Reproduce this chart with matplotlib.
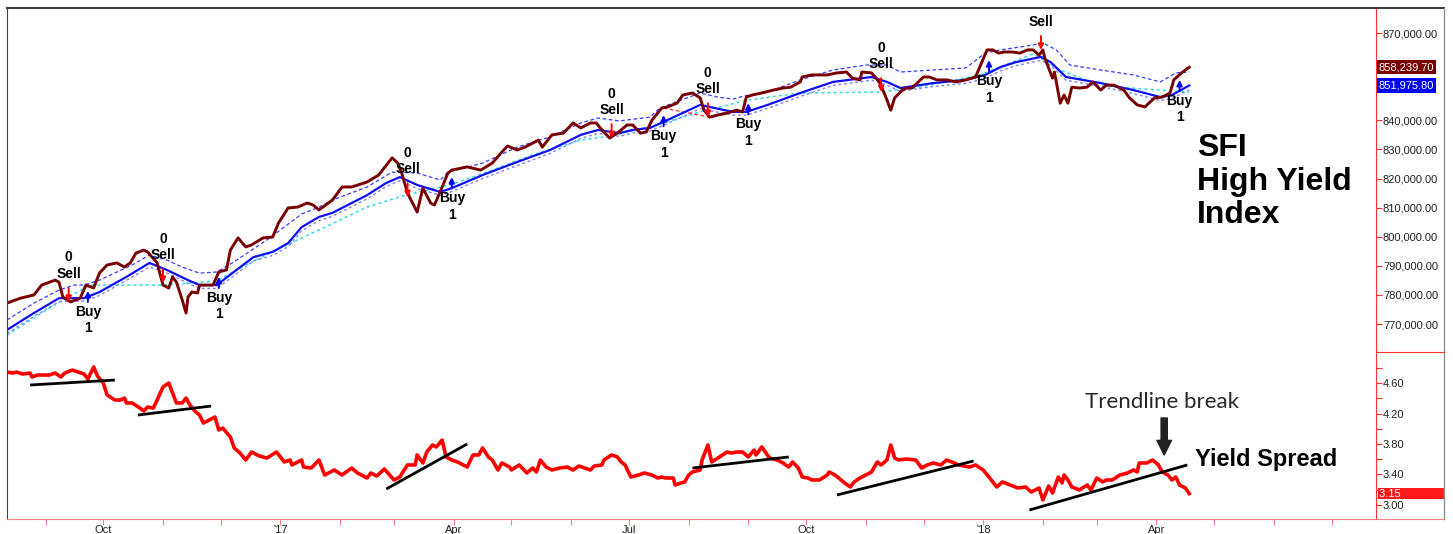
import pandas as pd
import matplotlib
matplotlib.use("Agg")
import matplotlib.pyplot as plt
import matplotlib.dates as mdates
from matplotlib.lines import Line2D
from matplotlib.ticker import FuncFormatter, FixedLocator

plt.rcParams['font.family'] = ['Liberation Sans', 'DejaVu Sans']

# --- SFI High Yield Index (values in thousands) ---
price_dates = [
    "2016-08-12", "2016-08-19", "2016-08-26", "2016-08-30", "2016-09-06", "2016-09-08", "2016-09-10", "2016-09-14", "2016-09-19", "2016-09-22",
    "2016-09-26", "2016-09-29", "2016-10-03", "2016-10-08", "2016-10-12", "2016-10-15", "2016-10-18", "2016-10-22", "2016-10-24", "2016-10-29",
    "2016-11-01", "2016-11-04", "2016-11-06", "2016-11-08", "2016-11-11", "2016-11-13", "2016-11-14", "2016-11-16", "2016-11-19", "2016-11-20",
    "2016-11-24", "2016-11-27", "2016-11-30", "2016-12-04", "2016-12-06", "2016-12-10", "2016-12-14", "2016-12-17", "2016-12-23", "2016-12-28",
    "2016-12-31", "2017-01-05", "2017-01-10", "2017-01-15", "2017-01-18", "2017-01-21", "2017-01-28", "2017-02-02", "2017-02-07", "2017-02-15",
    "2017-02-21", "2017-02-28", "2017-03-03", "2017-03-05", "2017-03-08", "2017-03-13", "2017-03-16", "2017-03-20", "2017-03-22", "2017-03-26",
    "2017-03-29", "2017-03-31", "2017-04-08", "2017-04-15", "2017-04-21", "2017-04-26", "2017-04-29", "2017-05-04", "2017-05-08", "2017-05-15",
    "2017-05-17", "2017-05-22", "2017-05-28", "2017-06-02", "2017-06-06", "2017-06-11", "2017-06-14", "2017-06-17", "2017-06-21", "2017-06-25",
    "2017-06-30", "2017-07-03", "2017-07-07", "2017-07-10", "2017-07-13", "2017-07-18", "2017-07-21", "2017-07-26", "2017-07-29", "2017-08-03",
    "2017-08-07", "2017-08-09", "2017-08-12", "2017-08-16", "2017-08-21", "2017-08-26", "2017-08-29", "2017-08-31", "2017-09-03", "2017-09-08",
    "2017-09-14", "2017-09-19", "2017-09-23", "2017-09-28", "2017-09-29", "2017-10-04", "2017-10-12", "2017-10-17", "2017-10-22", "2017-10-25",
    "2017-10-29", "2017-10-30", "2017-11-04", "2017-11-08", "2017-11-11", "2017-11-14", "2017-11-16", "2017-11-20", "2017-11-22", "2017-11-25",
    "2017-12-01", "2017-12-04", "2017-12-08", "2017-12-13", "2017-12-18", "2017-12-23", "2017-12-28", "2017-12-30", "2018-01-03", "2018-01-06",
    "2018-01-09", "2018-01-12", "2018-01-16", "2018-01-20", "2018-01-24", "2018-01-27", "2018-01-30", "2018-02-01", "2018-02-02", "2018-02-06",
    "2018-02-07", "2018-02-10", "2018-02-12", "2018-02-14", "2018-02-16", "2018-02-20", "2018-02-24", "2018-02-27", "2018-03-03", "2018-03-06",
    "2018-03-10", "2018-03-15", "2018-03-18", "2018-03-22", "2018-03-26", "2018-03-28", "2018-03-31", "2018-04-04", "2018-04-08", "2018-04-10",
    "2018-04-14", "2018-04-18",
]
price_values = [
    777.2, 778.9, 780.0, 783.4, 785.1, 784.4, 779.3, 777.6, 778.9, 783.4,
    782.4, 787.5, 790.3, 791.0, 789.6, 791.0, 794.4, 795.4, 794.8, 791.0,
    783.4, 782.4, 786.2, 784.4, 778.3, 773.8, 779.3, 781.0, 780.7, 783.4,
    783.4, 783.4, 787.9, 788.6, 795.4, 799.6, 796.5, 797.2, 799.6, 799.9,
    804.7, 809.9, 810.2, 811.6, 810.9, 809.2, 812.6, 817.1, 817.1, 818.8,
    821.2, 827.1, 825.3, 821.9, 815.0, 808.5, 816.7, 811.6, 810.9, 817.1,
    821.9, 822.9, 824.0, 822.9, 825.3, 829.1, 831.2, 829.8, 830.8, 833.2,
    830.8, 835.0, 835.6, 839.1, 837.4, 839.1, 839.1, 836.7, 833.9, 835.6,
    838.4, 838.4, 835.6, 836.0, 840.1, 844.2, 844.6, 845.9, 848.7, 849.4,
    847.7, 843.5, 841.1, 841.8, 842.5, 843.5, 842.9, 848.0, 848.7, 849.4,
    850.4, 851.1, 851.4, 853.2, 854.9, 855.6, 855.6, 856.3, 856.6, 854.5,
    853.9, 856.6, 856.3, 853.2, 848.7, 843.5, 847.7, 850.4, 851.1, 851.1,
    854.9, 854.9, 853.9, 853.9, 853.2, 853.9, 854.9, 858.0, 864.2, 864.2,
    863.1, 863.5, 863.5, 863.1, 864.2, 864.2, 862.4, 864.2, 861.4, 854.5,
    856.6, 845.9, 848.7, 845.9, 851.4, 851.1, 851.4, 853.2, 850.4, 852.1,
    852.1, 850.4, 847.7, 845.3, 844.6, 845.9, 847.7, 848.0, 849.4, 853.9,
    856.3, 858.2397,
]

# moving average (solid blue) and its lower dotted band
ma_dates = [
    "2016-08-12", "2016-08-26", "2016-09-08", "2016-09-13", "2016-09-21", "2016-09-29", "2016-10-13", "2016-10-25",
    "2016-11-03", "2016-11-14", "2016-11-20", "2016-11-29", "2016-12-07", "2016-12-18", "2016-12-28", "2017-01-05",
    "2017-01-12", "2017-01-21", "2017-01-28", "2017-02-15", "2017-02-25", "2017-03-04", "2017-03-13", "2017-03-25",
    "2017-03-31", "2017-04-16", "2017-05-04", "2017-05-21", "2017-06-06", "2017-06-15", "2017-06-26", "2017-07-03",
    "2017-07-12", "2017-07-21", "2017-08-07", "2017-08-24", "2017-08-31", "2017-09-11", "2017-09-28", "2017-10-15",
    "2017-11-04", "2017-11-12", "2017-11-19", "2017-12-06", "2017-12-23", "2018-01-02", "2018-01-10", "2018-01-18",
    "2018-01-31", "2018-02-05", "2018-02-13", "2018-03-03", "2018-03-20", "2018-04-03", "2018-04-09", "2018-04-18",
]
ma_values = [
    768.0, 773.8, 778.9, 778.9, 778.9, 781.0, 786.2, 791.0,
    788.6, 785.1, 783.4, 783.4, 787.5, 793.0, 794.8, 797.8,
    803.3, 806.8, 808.2, 814.3, 818.5, 820.5, 817.8, 815.4,
    816.7, 821.2, 825.7, 829.8, 835.0, 836.7, 835.6, 836.7,
    837.4, 840.1, 845.3, 842.9, 842.9, 845.3, 849.4, 853.2,
    854.9, 853.2, 851.1, 852.8, 853.9, 855.6, 858.3, 860.0,
    861.8, 860.0, 854.9, 852.8, 850.4, 848.0, 848.7, 851.9758,
]
lower_band_values = [
    766.8, 772.6, 777.7, 777.8, 777.9, 779.8, 785.0, 789.6,
    787.6, 784.0, 782.3, 782.2, 786.2, 791.7, 793.6, 796.6,
    802.0, 805.5, 807.0, 813.0, 817.3, 819.2, 816.6, 814.2,
    815.5, 820.0, 824.5, 828.6, 833.8, 835.5, 834.5, 835.6,
    836.3, 838.9, 844.0, 841.8, 841.8, 844.1, 848.2, 852.0,
    853.8, 852.1, 850.0, 851.6, 852.7, 854.4, 857.0, 858.8,
    860.6, 858.9, 853.8, 851.6, 849.2, 846.8, 847.5, 850.5,
]

# upper dashed band
upper_dates = [
    "2016-08-12", "2016-08-26", "2016-09-08", "2016-09-16", "2016-09-21", "2016-09-29", "2016-10-16", "2016-10-25",
    "2016-11-03", "2016-11-12", "2016-11-20", "2016-11-29", "2016-12-07", "2016-12-25", "2017-01-12", "2017-01-21",
    "2017-01-28", "2017-02-15", "2017-02-28", "2017-03-13", "2017-03-25", "2017-03-29", "2017-04-16", "2017-05-04",
    "2017-05-21", "2017-06-06", "2017-06-15", "2017-06-26", "2017-07-12", "2017-07-17", "2017-08-07", "2017-08-16",
    "2017-08-24", "2017-08-30", "2017-09-11", "2017-09-28", "2017-10-15", "2017-11-01", "2017-11-12", "2017-11-19",
    "2017-12-06", "2017-12-23", "2018-01-02", "2018-01-10", "2018-01-27", "2018-02-01", "2018-02-08", "2018-02-15",
    "2018-03-03", "2018-03-20", "2018-04-03", "2018-04-11", "2018-04-18",
]
upper_values = [
    771.4, 777.2, 781.7, 783.4, 783.4, 785.1, 790.3, 793.7,
    792.0, 789.3, 787.5, 787.9, 791.0, 798.9, 807.8, 810.2,
    812.6, 817.1, 822.2, 821.9, 819.5, 822.2, 825.3, 830.8,
    834.3, 839.1, 840.8, 839.8, 841.1, 844.2, 849.4, 848.0,
    847.3, 848.4, 849.7, 853.9, 857.3, 859.0, 859.0, 856.6,
    857.3, 858.0, 863.1, 864.2, 865.9, 866.6, 864.2, 859.0,
    857.3, 855.6, 853.2, 856.3, 856.6,
]

# long-term dotted line (cyan)
cyan_dates = [
    "2016-08-12", "2016-09-03", "2016-09-24", "2016-11-02", "2016-11-29", "2016-12-16", "2017-01-02", "2017-01-21",
    "2017-02-15", "2017-03-07", "2017-03-30", "2017-04-21", "2017-05-12", "2017-06-06", "2017-06-21", "2017-07-12",
    "2017-08-07", "2017-09-01", "2017-09-28", "2017-11-08", "2017-11-29", "2017-12-30", "2018-01-27", "2018-02-10",
    "2018-03-03", "2018-04-18",
]
cyan_values = [
    766.2, 775.5, 783.4, 783.4, 784.8, 791.0, 796.5, 802.3,
    810.2, 814.3, 817.8, 822.9, 828.1, 833.2, 834.6, 837.7,
    842.9, 847.0, 849.4, 849.7, 851.4, 855.6, 862.8, 857.3,
    851.8, 849.7,
]

stop_dates = ["2017-07-19", "2017-08-12"]
stop_values = [844.2, 841.1]

# signals
sell_dates = ["2016-09-13", "2016-11-01", "2017-03-08", "2017-06-22", "2017-08-11", "2017-11-09", "2018-01-31"]
sell_levels = [777.6, 784.1, 813.6, 833.9, 841.1, 849.7, 864.2]
buy_dates = ["2016-09-23", "2016-11-30", "2017-03-31", "2017-07-19", "2017-09-01", "2018-01-04", "2018-04-13"]
buy_levels = [781.4, 786.2, 820.5, 841.8, 845.9, 860.7, 853.9]

price_ticks = [770, 780, 790, 800, 810, 820, 830, 840, 850, 860, 870]
hidden_price_ticks = [850, 860]   # covered by the last-value boxes

# --- Yield spread ---
spread_dates = [
    "2016-08-12", "2016-08-15", "2016-08-17", "2016-08-20", "2016-08-24", "2016-08-25", "2016-08-28",
    "2016-09-03", "2016-09-06", "2016-09-09", "2016-09-11", "2016-09-15", "2016-09-18", "2016-09-21", "2016-09-23", "2016-09-26", "2016-09-28",
    "2016-10-01", "2016-10-03", "2016-10-07", "2016-10-10", "2016-10-12", "2016-10-13", "2016-10-16", "2016-10-20", "2016-10-22", "2016-10-24", "2016-10-27", "2016-10-29",
    "2016-11-01", "2016-11-04", "2016-11-06", "2016-11-08", "2016-11-11", "2016-11-13", "2016-11-15", "2016-11-18", "2016-11-20", "2016-11-22", "2016-11-25", "2016-11-28", "2016-11-30",
    "2016-12-02", "2016-12-06", "2016-12-08", "2016-12-11", "2016-12-14", "2016-12-17", "2016-12-21", "2016-12-25", "2016-12-30",
    "2017-01-03", "2017-01-06", "2017-01-07", "2017-01-12", "2017-01-13", "2017-01-17", "2017-01-21", "2017-01-24", "2017-01-29",
    "2017-02-02", "2017-02-07", "2017-02-10", "2017-02-15", "2017-02-17", "2017-02-20", "2017-02-24",
    "2017-03-01", "2017-03-04", "2017-03-08", "2017-03-12", "2017-03-13", "2017-03-16", "2017-03-18", "2017-03-21", "2017-03-23", "2017-03-26", "2017-03-28", "2017-03-31",
    "2017-04-03", "2017-04-08", "2017-04-11", "2017-04-14", "2017-04-16", "2017-04-19", "2017-04-21", "2017-04-24", "2017-04-26", "2017-04-30",
    "2017-05-01", "2017-05-05", "2017-05-09", "2017-05-12", "2017-05-14", "2017-05-16", "2017-05-19", "2017-05-22", "2017-05-26", "2017-05-30",
    "2017-06-02", "2017-06-05", "2017-06-11", "2017-06-13", "2017-06-17", "2017-06-18", "2017-06-22", "2017-06-25", "2017-06-27", "2017-06-29",
    "2017-07-02", "2017-07-06", "2017-07-09", "2017-07-13", "2017-07-16", "2017-07-18", "2017-07-20", "2017-07-24", "2017-07-25", "2017-07-28", "2017-07-30",
    "2017-08-01", "2017-08-03", "2017-08-07", "2017-08-08", "2017-08-11", "2017-08-13", "2017-08-17", "2017-08-21", "2017-08-23", "2017-08-26", "2017-08-29",
    "2017-09-01", "2017-09-04", "2017-09-05", "2017-09-08", "2017-09-12", "2017-09-16", "2017-09-19", "2017-09-22", "2017-09-24", "2017-09-27", "2017-09-29",
    "2017-10-02", "2017-10-04", "2017-10-08", "2017-10-12", "2017-10-13", "2017-10-16", "2017-10-18", "2017-10-21", "2017-10-24", "2017-10-26", "2017-10-29",
    "2017-11-01", "2017-11-04", "2017-11-07", "2017-11-09", "2017-11-12", "2017-11-14", "2017-11-16", "2017-11-18", "2017-11-22", "2017-11-27", "2017-11-30",
    "2017-12-03", "2017-12-06", "2017-12-10", "2017-12-13", "2017-12-17", "2017-12-19", "2017-12-25", "2017-12-28",
    "2018-01-01", "2018-01-04", "2018-01-08", "2018-01-11", "2018-01-15", "2018-01-19", "2018-01-23", "2018-01-26", "2018-01-30",
    "2018-02-01", "2018-02-04", "2018-02-06", "2018-02-09", "2018-02-11", "2018-02-12", "2018-02-14", "2018-02-16", "2018-02-20", "2018-02-24", "2018-02-26",
    "2018-03-01", "2018-03-04", "2018-03-06", "2018-03-09", "2018-03-13", "2018-03-17", "2018-03-20", "2018-03-22", "2018-03-23", "2018-03-27", "2018-03-30",
    "2018-04-02", "2018-04-04", "2018-04-07", "2018-04-09", "2018-04-11", "2018-04-13", "2018-04-16", "2018-04-18",
]
spread_values = [
    4.744, 4.731, 4.744, 4.718, 4.731, 4.679, 4.705,
    4.705, 4.731, 4.679, 4.731, 4.770, 4.744, 4.718, 4.652, 4.810, 4.692,
    4.600, 4.443, 4.377, 4.377, 4.403, 4.338, 4.338, 4.272, 4.233, 4.285, 4.272, 4.377,
    4.548, 4.600, 4.469, 4.338, 4.338, 4.403, 4.311, 4.220, 4.180, 4.075, 4.115, 4.154, 3.984,
    4.010, 3.892, 3.748, 3.682, 3.590, 3.695, 3.643, 3.616, 3.695,
    3.564, 3.590, 3.525, 3.590, 3.498, 3.485, 3.590, 3.393, 3.459,
    3.393, 3.485, 3.420, 3.354, 3.420, 3.380, 3.472,
    3.328, 3.367, 3.525, 3.525, 3.656, 3.551, 3.695, 3.787, 3.761, 3.852, 3.630, 3.590,
    3.564, 3.498, 3.656, 3.656, 3.748, 3.630, 3.590, 3.459, 3.551, 3.498,
    3.459, 3.525, 3.420, 3.485, 3.433, 3.590, 3.498, 3.459, 3.485, 3.498,
    3.459, 3.511, 3.459, 3.511, 3.525, 3.590, 3.656, 3.630, 3.564, 3.525,
    3.367, 3.393, 3.420, 3.393, 3.354, 3.367, 3.354, 3.354, 3.262, 3.289, 3.302,
    3.393, 3.433, 3.459, 3.590, 3.787, 3.564, 3.630, 3.695, 3.682, 3.695, 3.695,
    3.630, 3.721, 3.656, 3.761, 3.616, 3.590, 3.551, 3.498, 3.564, 3.485, 3.367,
    3.354, 3.328, 3.328, 3.393, 3.433, 3.393, 3.354, 3.289, 3.236, 3.302, 3.354,
    3.393, 3.433, 3.564, 3.525, 3.590, 3.787, 3.616, 3.590, 3.603, 3.590, 3.485,
    3.525, 3.551, 3.525, 3.590, 3.551, 3.525, 3.498, 3.525,
    3.459, 3.367, 3.236, 3.302, 3.262, 3.223, 3.236, 3.170, 3.223,
    3.066, 3.249, 3.157, 3.367, 3.289, 3.393, 3.328, 3.236, 3.197, 3.262, 3.197,
    3.354, 3.302, 3.328, 3.328, 3.393, 3.420, 3.459, 3.433, 3.551, 3.551, 3.590,
    3.525, 3.433, 3.393, 3.328, 3.367, 3.262, 3.223, 3.15,
]

spread_ticks = [3.00, 3.40, 3.80, 4.20, 4.60]
spread_minor_ticks = [3.20, 3.60, 4.00, 4.40, 4.80]

trend_starts = ["2016-08-24", "2016-10-19", "2017-02-25", "2017-08-03", "2017-10-17", "2018-01-25"]
trend_ends = ["2016-10-07", "2016-11-26", "2017-04-08", "2017-09-22", "2017-12-27", "2018-04-17"]
trend_start_values = [4.574, 4.180, 3.210, 3.485, 3.131, 2.934]
trend_end_values = [4.639, 4.298, 3.800, 3.630, 3.577, 3.525]

break_date = "2018-04-05"
break_from, break_to = 4.141, 3.656

W, H = 1453, 534


def fx(x):
    return x / W


def fy(y):
    return 1 - y / H


fig = plt.figure(figsize=(W / 100, H / 100), dpi=100)
ax1 = fig.add_axes([fx(7), fy(352), fx(1376) - fx(7), fy(8) - fy(352)])
ax2 = fig.add_axes([fx(7), fy(519), fx(1376) - fx(7), fy(352) - fy(519)], sharex=ax1)

to_dt = pd.to_datetime
last_date = to_dt(price_dates[-1])

# top panel
ax1.plot(to_dt(cyan_dates), cyan_values, color='#33dddd', lw=1.1, ls=(0, (2, 2)))
ax1.plot(to_dt(ma_dates), lower_band_values, color='#8080ff', lw=1.0, ls=(0, (2, 2)))
ax1.plot(to_dt(upper_dates), upper_values, color='#3b3bff', lw=0.9, ls=(0, (3, 2)))
ax1.plot(to_dt(stop_dates), stop_values, color='#ff3030', lw=0.9, ls=(0, (3, 2)))
ax1.plot(to_dt(ma_dates), ma_values, color='#1010ff', lw=1.6)
ax1.plot(to_dt(price_dates), price_values, color='#7a0000', lw=2.1)

for d, lvl in zip(to_dt(sell_dates), sell_levels):
    ax1.annotate("", xy=(d, lvl), xytext=(0, 10), textcoords="offset points",
                 arrowprops=dict(arrowstyle="-|>", color="red", lw=1.4, mutation_scale=8,
                                 shrinkA=0, shrinkB=0))
    ax1.annotate("Sell", xy=(d, lvl), xytext=(0, 20), textcoords="offset points",
                 ha="center", va="center", fontsize=10, fontweight="bold", clip_on=True)
    ax1.annotate("0", xy=(d, lvl), xytext=(0, 32), textcoords="offset points",
                 ha="center", va="center", fontsize=10, fontweight="bold", clip_on=True)

for d, lvl in zip(to_dt(buy_dates), buy_levels):
    ax1.annotate("", xy=(d, lvl), xytext=(0, -8), textcoords="offset points",
                 arrowprops=dict(arrowstyle="-|>", color="#0000ee", lw=1.4, mutation_scale=8,
                                 shrinkA=0, shrinkB=0))
    ax1.annotate("Buy", xy=(d, lvl), xytext=(0, -15), textcoords="offset points",
                 ha="center", va="center", fontsize=10, fontweight="bold", clip_on=True)
    ax1.annotate("1", xy=(d, lvl), xytext=(0, -27), textcoords="offset points",
                 ha="center", va="center", fontsize=10, fontweight="bold", clip_on=True)

for i, word in enumerate(["SFI", "High Yield", "Index"]):
    ax1.text(0.869, 0.593 - i * 0.0975, word, transform=ax1.transAxes,
             fontsize=23, fontweight="bold", ha="left", va="center", color="black")

ax1.set_ylim(760.4, 878.6)
ax1.yaxis.tick_right()
ax1.yaxis.set_major_locator(FixedLocator(price_ticks))
ax1.yaxis.set_major_formatter(FuncFormatter(
    lambda v, p: "" if round(v) in hidden_price_ticks else f"{v * 1000:,.2f}"))
ax1.tick_params(axis='y', direction='out', length=4, width=0.8, color='#ff3030',
                labelsize=8, labelcolor='#222222', pad=1)
ax1.tick_params(axis='x', which='both', bottom=False, labelbottom=False)

ax1.text(1.002, price_values[-1], f"{price_values[-1] * 1000:,.2f}",
         transform=ax1.get_yaxis_transform(), fontsize=8, color="white", ha="left", va="center",
         bbox=dict(boxstyle="square,pad=0.2", fc="#7a0000", ec="none"))
ax1.text(1.002, ma_values[-1], f"{ma_values[-1] * 1000:,.2f}",
         transform=ax1.get_yaxis_transform(), fontsize=8, color="white", ha="left", va="center",
         bbox=dict(boxstyle="square,pad=0.2", fc="#0000ff", ec="none"))

# bottom panel
ax2.plot(to_dt(spread_dates), spread_values, color='#ff0000', lw=2.6)
for s, e, sv, ev in zip(trend_starts, trend_ends, trend_start_values, trend_end_values):
    ax2.plot(to_dt([s, e]), [sv, ev], color='black', lw=2.0, solid_capstyle='butt')

bd = pd.Timestamp(break_date)
ax2.annotate("", xy=(bd, break_to), xytext=(bd, break_from),
             arrowprops=dict(arrowstyle="simple,head_width=0.75,head_length=0.75,tail_width=0.32",
                             color="#222222", mutation_scale=14, shrinkA=0, shrinkB=0))
ax2.text(0.8435, 0.70, "Trendline break", transform=ax2.transAxes, fontsize=16,
         family=['Lato', 'DejaVu Sans'], color='#262626', ha='center', va='center')
ax2.text(0.868, 0.359, "Yield Spread", transform=ax2.transAxes, fontsize=17,
         fontweight='bold', ha='left', va='center', color='black')

ax2.set_ylim(2.816, 5.007)
ax2.yaxis.tick_right()
ax2.yaxis.set_major_locator(FixedLocator(spread_ticks))
ax2.yaxis.set_minor_locator(FixedLocator(spread_minor_ticks))
ax2.yaxis.set_major_formatter(FuncFormatter(lambda v, p: f"{v:.2f}"))
ax2.tick_params(axis='y', which='both', direction='out', length=4, width=0.8, color='#ff3030',
                labelsize=8, labelcolor='#222222', pad=1)
ax2.text(1.002, spread_values[-1], f"{spread_values[-1]:.2f}" + " " * 14,
         transform=ax2.get_yaxis_transform(), fontsize=8, color="white", ha="left", va="center",
         bbox=dict(boxstyle="square,pad=0.05", fc="#ff1a1a", ec="none"))


def month_label(x, pos):
    d = mdates.num2date(x).replace(tzinfo=None)
    if d > last_date:
        return ""
    if d.month == 1:
        return "'" + d.strftime("%y")
    if d.month in (4, 7, 10):
        return d.strftime("%b")
    return ""


ax2.xaxis.set_major_locator(mdates.MonthLocator())
ax2.xaxis.set_major_formatter(FuncFormatter(month_label))
ax2.tick_params(axis='x', direction='out', length=4, width=0.8, color='#ff8080',
                labelsize=8, labelcolor='#222222', pad=0.5)
ax2.set_xlim(pd.Timestamp("2016-08-12"), pd.Timestamp("2018-07-24"))

for ax in (ax1, ax2):
    for side in ('top', 'bottom'):
        ax.spines[side].set_visible(False)
    ax.spines['left'].set_color('#404040')
    ax.spines['right'].set_color('#ff3030')
ax2.spines['bottom'].set_visible(True)
ax2.spines['bottom'].set_color('#ff8080')

# chart frame
fig.add_artist(Line2D([fx(7), fx(1444)], [fy(8), fy(8)], color='#404040', lw=1.5))
fig.add_artist(Line2D([fx(1444), fx(1444)], [fy(8), fy(519)], color='#909090', lw=1.0))
fig.add_artist(Line2D([fx(1376), fx(1444)], [fy(352), fy(352)], color='#ff3030', lw=0.8))
fig.add_artist(Line2D([fx(1376), fx(1444)], [fy(519), fy(519)], color='#ff8080', lw=0.8))

fig.savefig("out.png", dpi=100)
